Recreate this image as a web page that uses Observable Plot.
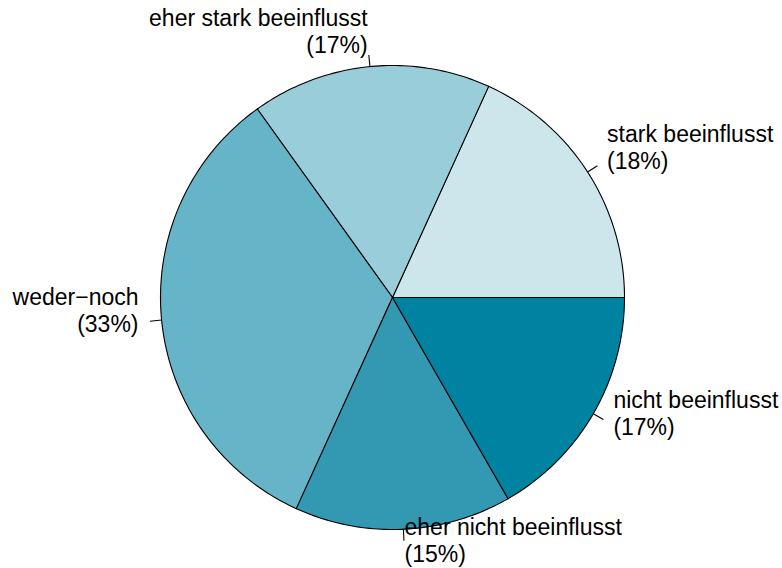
<!DOCTYPE html>
<html>
<head>
<meta charset="utf-8">
<script src="https://cdn.jsdelivr.net/npm/d3@7"></script>
<script src="https://cdn.jsdelivr.net/npm/@observablehq/plot@0.6"></script>
<style>
  html, body { margin: 0; padding: 0; background: #fff; }
  svg { display: block; }
</style>
</head>
<body>
<div id="chart"></div>
<script>
// Data (counterclockwise from 3 o'clock, as in R's pie())
const categories = ["stark beeinflusst", "eher stark beeinflusst", "weder\u2212noch", "eher nicht beeinflusst", "nicht beeinflusst"];
const shares = [18.2, 16.7, 33.3, 15.1, 16.7];      // slice sizes
const percentLabels = ["18%", "17%", "33%", "15%", "17%"];
const colors = ["#CCE6EC", "#99CDDA", "#66B4C7", "#3399B3", "#0083A1"];

const total = d3.sum(shares);
const slices = [];
let cum = 0;
categories.forEach((cat, i) => {
  const a0 = cum / total * 2 * Math.PI;
  cum += shares[i];
  const a1 = cum / total * 2 * Math.PI;
  slices.push({cat, pct: percentLabels[i], color: colors[i], a0, a1, mid: (a0 + a1) / 2});
});

// polygon points for each slice (unit circle)
const poly = [];
slices.forEach(s => {
  poly.push({cat: s.cat, x: 0, y: 0});
  const n = Math.max(2, Math.ceil((s.a1 - s.a0) / (Math.PI / 180)));
  for (let k = 0; k <= n; k++) {
    const a = s.a0 + (s.a1 - s.a0) * k / n;
    poly.push({cat: s.cat, x: Math.cos(a), y: Math.sin(a)});
  }
});

const labels = slices.map(s => ({
  cat: s.cat,
  pct: "(" + s.pct + ")",
  x0: Math.cos(s.mid), y0: Math.sin(s.mid),
  x1: 1.05 * Math.cos(s.mid), y1: 1.05 * Math.sin(s.mid),
  xt: 1.1 * Math.cos(s.mid), yt: 1.1 * Math.sin(s.mid),
  anchor: Math.cos(s.mid) < 0 ? "end" : "start"
}));

const W = 782, H = 568, cx = 392, cy = 297, R = 232;
const colorMap = new Map(slices.map(s => [s.cat, s.color]));

const textOpts = (extra) => Object.assign({
  x: "xt", y: "yt", fontSize: 23, fill: "#000", lineAnchor: "middle"
}, extra);

const plot = Plot.plot({
  width: W, height: H,
  margin: 0,
  x: {axis: null, domain: [-cx / R, (W - cx) / R], range: [0, W]},
  y: {axis: null, domain: [-(H - cy) / R, cy / R], range: [H, 0]},
  style: {fontFamily: "'Liberation Sans', Arial, Helvetica, sans-serif", fontSize: "23px", background: "#fff"},
  marks: [
    Plot.line(poly, {x: "x", y: "y", z: "cat", fill: d => colorMap.get(d.cat), stroke: "#000", strokeWidth: 1.1, curve: "linear-closed"}),
    Plot.link(labels, {x1: "x0", y1: "y0", x2: "x1", y2: "y1", stroke: "#000", strokeWidth: 1.1}),
    Plot.text(labels.filter(d => d.anchor === "start"), textOpts({text: "cat", textAnchor: "start", dy: -25})),
    Plot.text(labels.filter(d => d.anchor === "start"), textOpts({text: "pct", textAnchor: "start", dy: 2})),
    Plot.text(labels.filter(d => d.anchor === "end"), textOpts({text: "cat", textAnchor: "end", dy: -25})),
    Plot.text(labels.filter(d => d.anchor === "end"), textOpts({text: "pct", textAnchor: "end", dy: 2}))
  ]
});
document.getElementById("chart").appendChild(plot);
</script>
</body>
</html>
